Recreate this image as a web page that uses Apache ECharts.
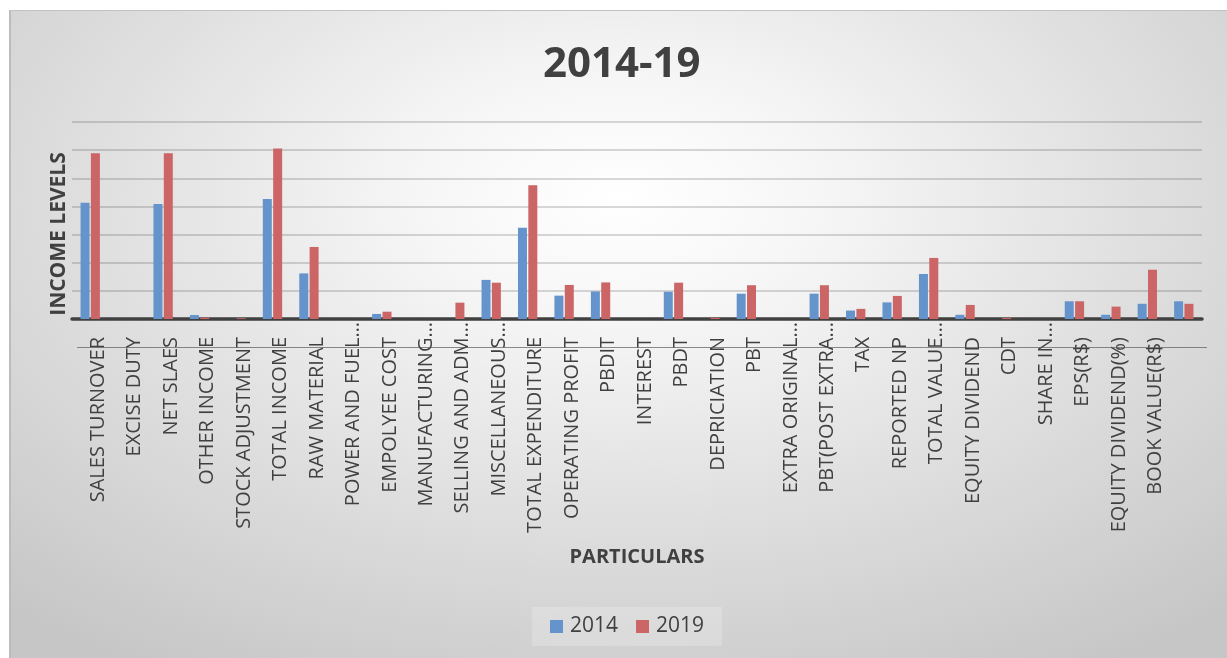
<!DOCTYPE html>
<html>
<head>
<meta charset="utf-8">
<title>2014-19</title>
<script src="https://cdn.jsdelivr.net/npm/echarts@6/dist/echarts.min.js"></script>
<style>
  html, body { margin: 0; padding: 0; background: #ffffff; width: 1227px; height: 658px; overflow: hidden; }
  #frame {
    position: absolute; left: 9px; top: 10px; width: 1218px; height: 648px;
    border-top: 1px solid #c2c2c2; border-left: 2px solid #bcbcbc; box-sizing: border-box;
    background: radial-gradient(ellipse 75% 85% at 50% 29%, #ffffff 0%, #f6f6f6 22%, #dedede 60%, #c6c6c6 100%);
  }
  #chart { position: absolute; left: 0; top: 0; width: 1216px; height: 647px; }
</style>
</head>
<body>
<div id="frame"><div id="chart"></div></div>
<script>
// Income statement line items (a trailing unnamed item closes the list)
const categories = [
  'SALES TURNOVER', 'EXCISE DUTY', 'NET SLAES', 'OTHER INCOME', 'STOCK ADJUSTMENT',
  'TOTAL INCOME', 'RAW MATERIAL', 'POWER AND FUEL…', 'EMPOLYEE COST', 'MANUFACTURING…',
  'SELLING AND ADM…', 'MISCELLANEOUS…', 'TOTAL EXPENDITURE', 'OPERATING PROFIT', 'PBDIT',
  'INTEREST', 'PBDT', 'DEPRICIATION', 'PBT', 'EXTRA ORIGINAL…',
  'PBT(POST EXTRA…', 'TAX', 'REPORTED NP', 'TOTAL VALUE…', 'EQUITY DIVIDEND',
  'CDT', 'SHARE IN…', 'EPS(R$)', 'EQUITY DIVIDEND(%)', 'BOOK VALUE(R$)', ''
];

const values2014 = [
  4.13, 0, 4.09, 0.14, 0,
  4.26, 1.62, 0, 0.18, 0,
  0, 1.39, 3.24, 0.83, 0.98,
  0, 0.97, 0, 0.90, 0,
  0.90, 0.30, 0.59, 1.60, 0.15,
  0, 0, 0.63, 0.15, 0.54, 0.63
];

const values2019 = [
  5.89, 0, 5.89, 0.05, 0.03,
  6.06, 2.56, 0, 0.26, 0,
  0.58, 1.29, 4.75, 1.21, 1.30,
  0, 1.29, 0.04, 1.20, 0,
  1.20, 0.36, 0.82, 2.17, 0.50,
  0.04, 0, 0.63, 0.44, 1.75, 0.54
];

const seriesNames = ['2014', '2019'];
const yMin = 0, yMax = 7, yStep = 1;

const textColor = '#404040';
const chart = echarts.init(document.getElementById('chart'), null, { renderer: 'canvas' });

// Full names get end padding the size of an ellipsis, so every name's words
// line up and truncated names let their "…" run on toward the axis
function labelFormatter(v) {
  if (v === '' || v.endsWith('…')) return v;
  return '{p|' + v + '}';
}

chart.setOption({
  backgroundColor: 'transparent',
  animation: false,
  textStyle: { fontFamily: '"Open Sans", "DejaVu Sans", sans-serif' },
  title: {
    text: '2014-19',
    left: 532,
    top: 33,
    padding: 0,
    textStyle: { fontSize: 42, fontWeight: 'bold', color: textColor, fontFamily: '"Open Sans", sans-serif' }
  },
  legend: {
    data: seriesNames,
    top: 596,
    left: 521,
    itemWidth: 13,
    itemHeight: 13,
    itemGap: 18,
    padding: [9, 18, 9, 18],
    backgroundColor: 'rgba(255,255,255,0.2)',
    icon: 'rect',
    textStyle: { fontSize: 21, color: textColor, padding: [0, 0, 0, 2], fontFamily: '"Open Sans", sans-serif' }
  },
  grid: { left: 61, right: 25, top: 111, bottom: 339, containLabel: false },
  xAxis: {
    type: 'category',
    data: categories,
    name: 'PARTICULARS',
    nameLocation: 'middle',
    nameGap: 228,
    nameTextStyle: { fontSize: 20, fontWeight: 'bold', color: textColor },
    axisLine: { show: true, lineStyle: { color: '#404040', width: 3.5 } },
    axisTick: { show: false },
    axisLabel: {
      interval: 0,
      rotate: 90,
      margin: 3,
      fontSize: 20,
      color: textColor,
      padding: [16, 0, 0, 0],
      formatter: labelFormatter,
      rich: { p: { fontSize: 20, color: textColor, padding: [0, 15, 0, 0] } }
    }
  },
  yAxis: {
    type: 'value',
    min: yMin,
    max: yMax,
    interval: yStep,
    axisLabel: { show: false },
    axisLine: { show: false },
    axisTick: { show: false },
    splitLine: { show: true, lineStyle: { color: 'rgba(0,0,0,0.2)', width: 1.5 } }
  },
  series: [
    {
      name: seriesNames[0],
      type: 'bar',
      data: values2014,
      barWidth: 9,
      barGap: '15%',
      itemStyle: { color: '#6494cb' }
    },
    {
      name: seriesNames[1],
      type: 'bar',
      data: values2019,
      barWidth: 9,
      barGap: '15%',
      itemStyle: { color: '#cb6566' }
    }
  ],
  graphic: [
    {
      type: 'text',
      x: 48,
      y: 223,
      rotation: Math.PI / 2,
      style: {
        text: 'INCOME LEVELS',
        fill: textColor,
        font: 'bold 21px "Open Sans", sans-serif',
        align: 'center',
        verticalAlign: 'middle'
      }
    },
    {
      type: 'line',
      z: 100,
      shape: { x1: 66, y1: 336.5, x2: 1196, y2: 336.5 },
      style: { stroke: 'rgba(90,90,90,0.7)', lineWidth: 1 }
    }
  ]
});
</script>
</body>
</html>
